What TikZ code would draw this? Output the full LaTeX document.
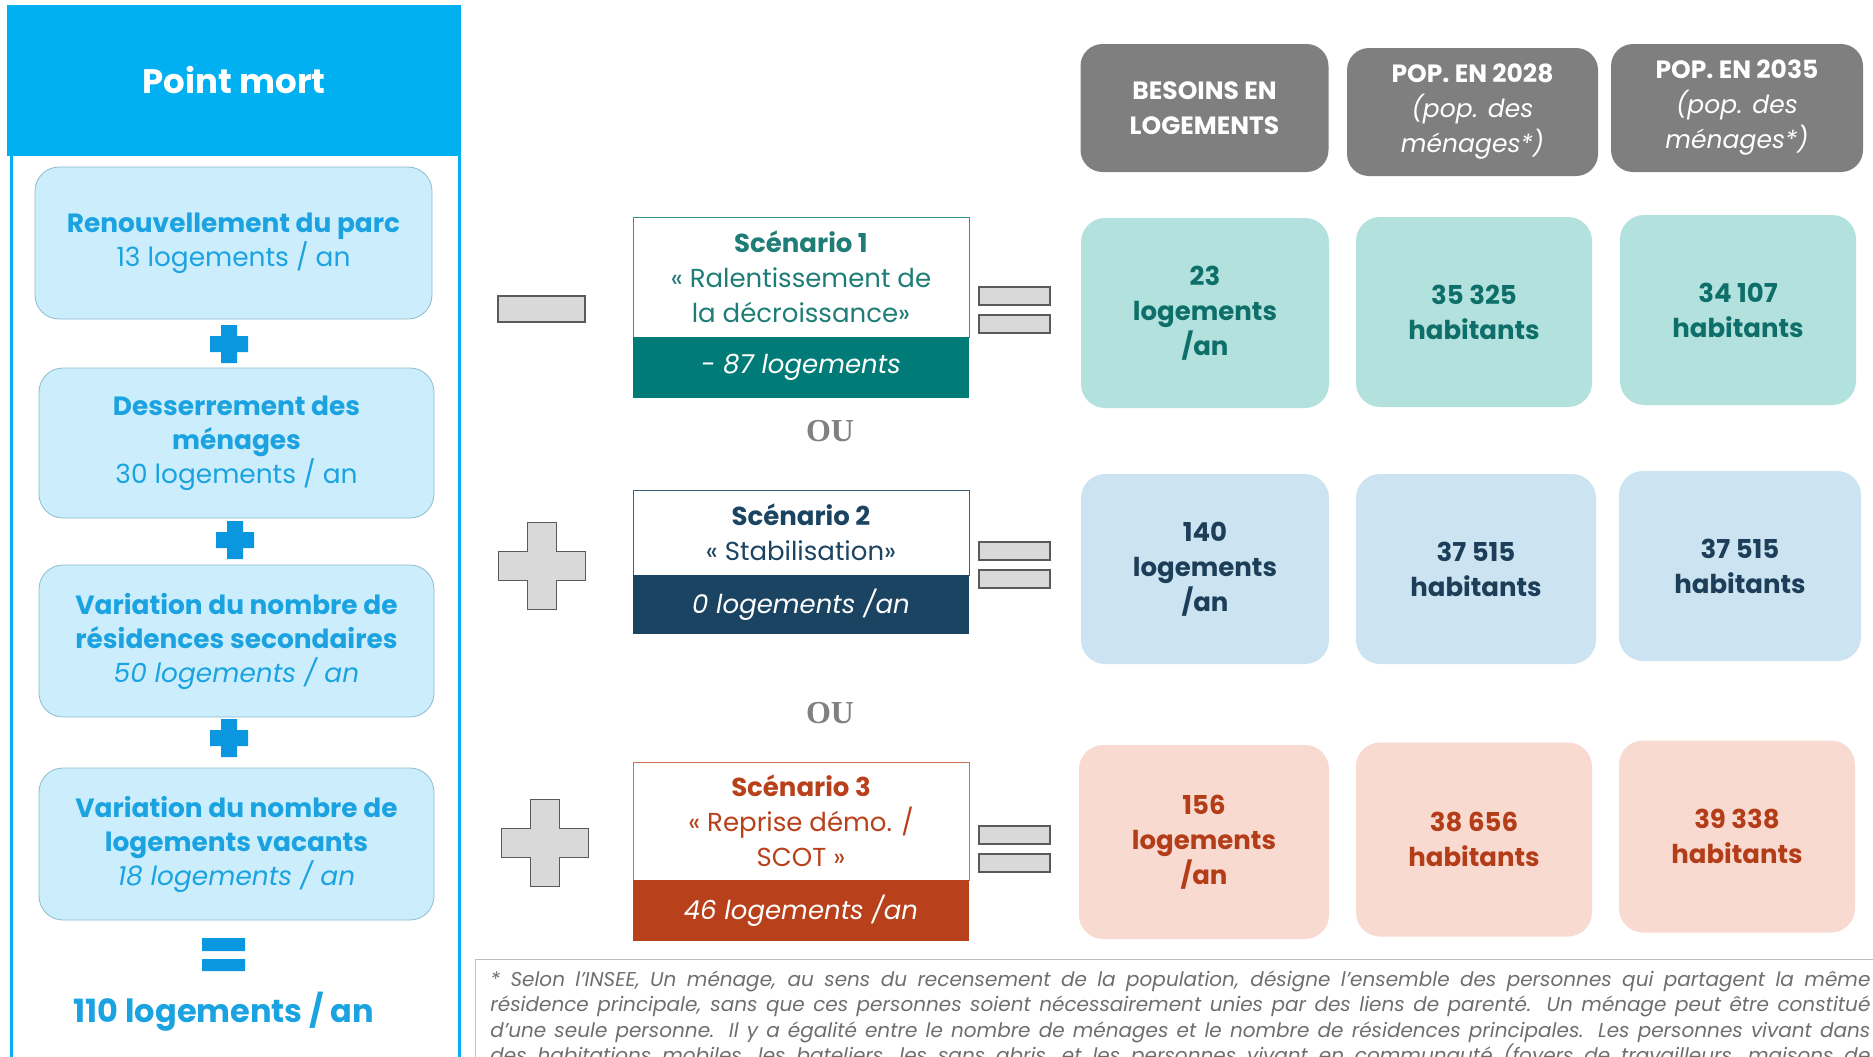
\documentclass[tikz,border=0pt]{standalone}
\usepackage{fontspec}
\setmainfont{Poppins}
\newfontfamily\oufont{Liberation Serif}
\usetikzlibrary{positioning}

\definecolor{pmcyan}{HTML}{00B0F0}
\definecolor{pmtext}{HTML}{1AA3E0}
\definecolor{pmplus}{HTML}{0A97E0}
\definecolor{pmfill}{HTML}{CCEDFB}
\definecolor{pmedge}{HTML}{8DBBD0}
\definecolor{signfill}{HTML}{D9D9D9}
\definecolor{signedge}{HTML}{5A5A5A}
\definecolor{scone}{HTML}{007B77}
\definecolor{sconetext}{HTML}{1E7D76}
\definecolor{sctwo}{HTML}{1B4462}
\definecolor{scthree}{HTML}{B8401A}
\definecolor{headgray}{HTML}{7F7F7F}
\definecolor{rowone}{HTML}{B3E2DE}
\definecolor{rowonetext}{HTML}{0E6E69}
\definecolor{rowtwo}{HTML}{CCE3F1}
\definecolor{rowtwotext}{HTML}{1C3E58}
\definecolor{rowthree}{HTML}{F9DAD0}
\definecolor{rowthreetext}{HTML}{B23D18}
\definecolor{notegray}{HTML}{6E6E6E}
\definecolor{ougray}{HTML}{808080}

\begin{document}
\begin{tikzpicture}[
    x=.5pt,y=-.5pt,
    pmbox/.style={draw=pmedge,fill=pmfill,rounded corners=12pt,minimum width=197.5pt,minimum height=76pt,
      align=center,text=pmtext,inner sep=2pt,font=\fontsize{13.2}{17}\selectfont},
    sctop/.style={draw,fill=white,minimum width=168pt,align=center,inner sep=1pt,font=\fontsize{13}{17.5}\selectfont},
    scval/.style={minimum width=168pt,align=center,text=white,inner sep=1pt,font=\itshape\fontsize{13}{17}\selectfont},
    head/.style={fill=headgray,text=white,rounded corners=11pt,minimum width=124pt,minimum height=64pt,
      align=center,inner sep=1pt,font=\fontsize{12.5}{17.5}\selectfont},
    res/.style={rounded corners=12pt,minimum width=118pt,minimum height=95pt,align=center,inner sep=1pt,
      font=\bfseries\fontsize{13}{17.5}\selectfont},
    opsign/.style={fill=signfill,draw=signedge,line width=.8pt},
    ou/.style={text=ougray,font=\oufont\bfseries\fontsize{16}{16}\selectfont}
  ]
    \useasboundingbox (0,0) rectangle (1873,1056);
    % point mort
    \draw[pmcyan,line width=1.5pt] (11,150) rectangle (459,1080);
    \node[fill=pmcyan,minimum width=227pt,minimum height=75.5pt,inner sep=0pt,text=white,
      font=\bfseries\fontsize{17}{20}\selectfont] (pmhead) at (234,80.5) {Point mort};
    \node[pmbox,minimum width=198.5pt] (renouv) at (233.5,243) {\textbf{Renouvellement du parc}\\13 logements / an};
    \node[pmbox,minimum height=75pt] (desser) at (236.5,443) {\textbf{Desserrement des}\\\textbf{ménages}\\30 logements / an};
    \node[pmbox] (second) at (236.5,641) {\textbf{Variation du nombre de}\\\textbf{résidences secondaires}\\\textit{50 logements / an}};
    \node[pmbox] (vacant) at (236.5,844) {\textbf{Variation du nombre de}\\\textbf{logements vacants}\\\textit{18 logements / an}};
    \foreach \cx/\cy in {229/344,235/540,229/738}
      \fill[pmplus,shift={(\cx,\cy)}] (-8,-19) -- (8,-19) -- (8,-8) -- (19,-8) -- (19,8) -- (8,8)
        -- (8,19) -- (-8,19) -- (-8,8) -- (-19,8) -- (-19,-8) -- (-8,-8) -- cycle;
    \fill[pmplus] (202,938) rectangle (245,951) (202,959) rectangle (245,971);
    \node[text=pmtext,font=\bfseries\fontsize{16}{18}\selectfont] (pmtotal) at (224,1012) {110 logements / an};
    % signes
    \draw[opsign] (498,296) rectangle (585,322);
    \foreach \cx/\cy in {542/566,545/843}
      \draw[opsign,shift={(\cx,\cy)}] (-14.5,-43.5) -- (14.5,-43.5) -- (14.5,-14.5) -- (43.5,-14.5) -- (43.5,14.5)
        -- (14.5,14.5) -- (14.5,43.5) -- (-14.5,43.5) -- (-14.5,14.5) -- (-43.5,14.5) -- (-43.5,-14.5)
        -- (-14.5,-14.5) -- cycle;
    \foreach \cy in {310,565,849}
      \draw[opsign] (979,\cy-23) rectangle (1050,\cy-5) (979,\cy+5) rectangle (1050,\cy+23);
    % scenarios
    \node[sctop,draw=scone!80,text=sconetext,minimum height=60pt] (sc1top) at (801,277)
      {\textbf{Scénario 1}\\« Ralentissement de\\la décroissance»};
    \node[scval,fill=scone,minimum height=30.5pt] (sc1val) at (801,367.5) {- 87 logements};
    \node[ou] (ou1) at (830,431) {OU};
    \node[sctop,draw=sctwo!85,text=sctwo,minimum height=42.5pt] (sc2top) at (801,532.5)
      {\textbf{Scénario 2}\\« Stabilisation»};
    \node[scval,fill=sctwo,minimum height=29.5pt] (sc2val) at (801,604.5) {0 logements /an};
    \node[ou] (ou2) at (830,713) {OU};
    \node[sctop,draw=scthree!75,text=scthree,minimum height=59pt] (sc3top) at (801,821)
      {\textbf{Scénario 3}\\« Reprise démo. /\\SCOT »};
    \node[scval,fill=scthree,minimum height=30.5pt] (sc3val) at (801,910.5) {46 logements /an};
    % resultats
    \node[head] (hbes) at (1204.5,108) {\textbf{BESOINS EN}\\\textbf{LOGEMENTS}};
    \node[head,minimum width=125.5pt] (hpopa) at (1472.5,112) {\textbf{POP. EN 2028}\\\textit{(pop. des}\\\textit{ménages*)}};
    \node[head,minimum width=126pt] (hpopb) at (1737,108) {\textbf{POP. EN 2035}\\\textit{(pop. des}\\\textit{ménages*)}};
    \node[res,fill=rowone,text=rowonetext,minimum width=124pt] (bes1) at (1205,313) {23\\logements\\/an};
    \node[res,fill=rowone,text=rowonetext] (popa1) at (1474,312) {35 325\\habitants};
    \node[res,fill=rowone,text=rowonetext] (popb1) at (1738,310) {34 107\\habitants};
    \node[res,fill=rowtwo,text=rowtwotext,minimum width=124pt] (bes2) at (1205,569) {140\\logements\\/an};
    \node[res,fill=rowtwo,text=rowtwotext,minimum width=120pt] (popa2) at (1476,569) {37 515\\habitants};
    \node[res,fill=rowtwo,text=rowtwotext,minimum width=121pt] (popb2) at (1740,566) {37 515\\habitants};
    \node[res,fill=rowthree,text=rowthreetext,minimum width=125pt,minimum height=97pt] (bes3) at (1204,842) {156\\logements\\/an};
    \node[res,fill=rowthree,text=rowthreetext,minimum height=97pt] (popa3) at (1474,839.5) {38 656\\habitants};
    \node[res,fill=rowthree,text=rowthreetext,minimum height=96pt] (popb3) at (1737,836.5) {39 338\\habitants};
    % note
    \draw[black!25] (475,1070) -- (475,959) -- (1890,959);
    \node[anchor=north west,text width=690pt,align=justify,inner sep=0pt,text=notegray,
      font=\itshape\fontsize{10}{12.75}\selectfont] (note) at (490,970)
      {* Selon l'INSEE, Un ménage, au sens du recensement de la population, désigne l'ensemble des personnes qui partagent la même\linebreak
      résidence principale, sans que ces personnes soient nécessairement unies par des liens de parenté. Un ménage peut être constitué\linebreak
      d'une seule personne. Il y a égalité entre le nombre de ménages et le nombre de résidences principales. Les personnes vivant dans\linebreak
      des habitations mobiles, les bateliers, les sans abris, et les personnes vivant en communauté (foyers de travailleurs, maisons de\linebreak};
  \end{tikzpicture}
\end{document}
